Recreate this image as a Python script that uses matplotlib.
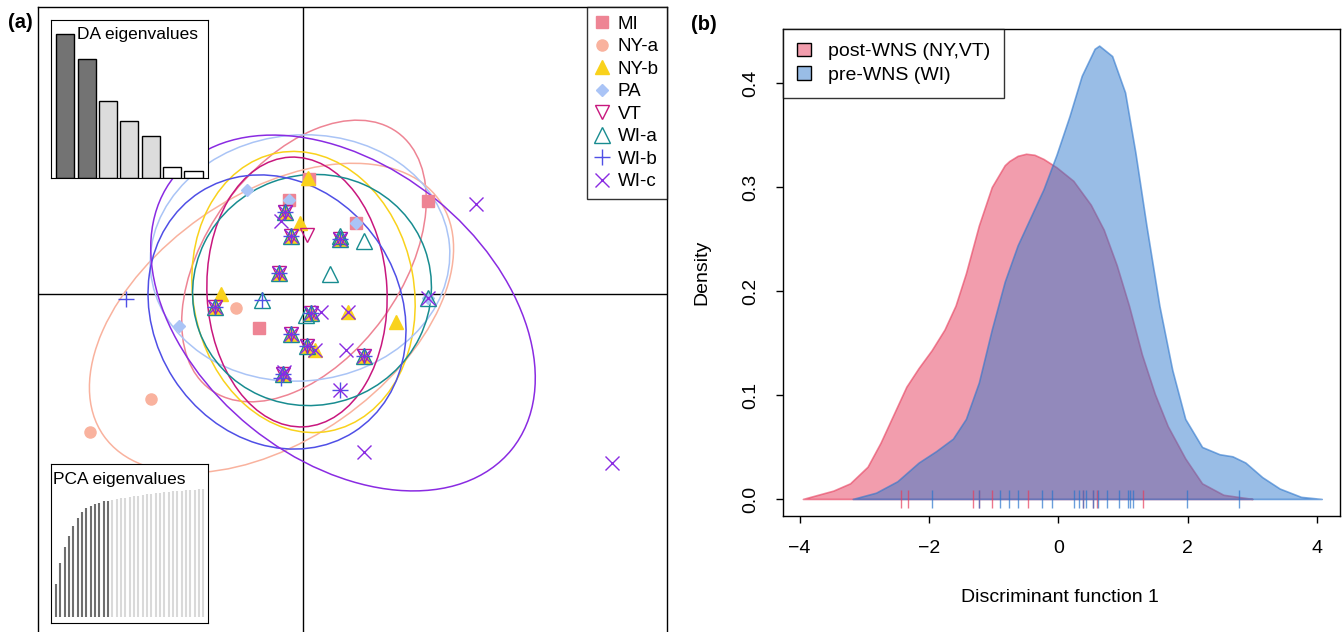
import numpy as np
import matplotlib.pyplot as plt
from matplotlib.patches import Ellipse, Patch
from matplotlib.lines import Line2D

plt.rcParams['font.family'] = ['Liberation Sans', 'DejaVu Sans']

# ---- panel (a): DAPC scatter ----
groups = ["MI", "NY-a", "NY-b", "PA", "VT", "WI-a", "WI-b", "WI-c"]
colors = ["#EE8494", "#F9B29E", "#F9D21C", "#AAC4F6", "#C8177E", "#188C90", "#4F4FE6", "#8A2BE2"]
markers = ["s", "o", "^", "D", "v", "^", "+", "x"]
msizes = [8.5, 8.0, 10.0, 6.0, 10.5, 11.0, 11.5, 9.5]
filled = [True, True, True, True, False, False, False, False]

# locations where several groups share identical coordinates
star_x = [-0.37, -0.24, 0.73, -0.49, -1.77, 0.15, -0.24, 0.07, 1.21, -0.41]
star_y = [1.65, 1.16, 1.11, 0.43, -0.25, -0.37, -0.79, -1.04, -1.23, -1.59]

mi_x = [0.12, -0.29, 1.06, 2.49, -0.89]
mi_y = [2.30, 1.89, 1.43, 1.87, -0.67]
nya_x = [-1.35, -3.04, -4.27]
nya_y = [-0.27, -2.09, -2.75]
nyb_x = [0.09, -0.06, -1.65, 0.89, 1.86, 0.23]
nyb_y = [2.33, 1.43, 0.01, -0.35, -0.55, -1.11]
pa_x = [-1.13, -0.29, 1.06, -2.49, 2.49]
pa_y = [2.08, 1.89, 1.43, -0.64, -0.07]
vt_x = [0.07]
vt_y = [1.18]
wia_x = [1.22, 0.54, -0.82, 2.49, 0.05, 0.73]
wia_y = [1.07, 0.40, -0.11, -0.07, -0.42, 1.16]
wib_x = [-3.55, -0.82, 0.73, -0.45]
wib_y = [-0.09, -0.11, -1.91, -1.68]
wic_x = [-0.44, 3.45, 0.35, 0.89, 2.49, 0.23, 0.85, 0.73, 1.21, 6.18, -0.38]
wic_y = [1.46, 1.81, -0.35, -0.35, -0.07, -1.11, -1.12, -1.91, -3.15, -3.38, -1.55]

grp_x = [mi_x, nya_x, nyb_x + star_x, pa_x, vt_x + star_x, wia_x + star_x, wib_x + star_x, wic_x + star_x]
grp_y = [mi_y, nya_y, nyb_y + star_y, pa_y, vt_y + star_y, wia_y + star_y, wib_y + star_y, wic_y + star_y]

# group ellipses: centre, width, height, angle
ell_x = [0.02, -0.63, 0.01, -0.06, -0.12, 0.18, -0.52, 0.80]
ell_y = [0.66, -0.48, 0.04, 0.72, 0.04, 0.08, -0.36, -0.38]
ell_w = [6.36, 8.20, 5.66, 6.00, 3.60, 4.80, 5.70, 8.68]
ell_h = [3.90, 4.91, 4.42, 4.92, 5.40, 4.60, 4.92, 5.87]
ell_ang = [54, 35, -79.5, 5, 3, 20, -57.3, -39]

da_eig = [43.0, 35.5, 23.1, 17.0, 12.4, 3.1, 2.1]
da_col = ["#737373", "#737373", "#DCDCDC", "#DCDCDC", "#DCDCDC", "white", "white"]

pca_cum = [0.253, 0.423, 0.543, 0.632, 0.713, 0.770, 0.817, 0.849, 0.867, 0.880, 0.893, 0.903, 0.909,
           0.915, 0.921, 0.927, 0.933, 0.938, 0.943, 0.948, 0.953, 0.958, 0.962, 0.966, 0.970,
           0.974, 0.978, 0.981, 0.984, 0.987, 0.990, 0.993, 0.995, 0.998, 1.000]
n_pca_kept = 13

# ---- panel (b): density of discriminant function 1 ----
post_x = [-3.95, -3.48, -3.22, -2.95, -2.75, -2.55, -2.35, -2.16, -1.96, -1.76, -1.59, -1.43, -1.23,
          -1.03, -0.83, -0.76, -0.63, -0.50, -0.37, -0.23, -0.03, 0.23, 0.50, 0.70, 0.90, 1.09, 1.29,
          1.49, 1.69, 1.96, 2.22, 2.55, 2.89, 3.00]
post_d = [0.000, 0.008, 0.015, 0.031, 0.054, 0.081, 0.108, 0.126, 0.143, 0.163, 0.186, 0.217, 0.263,
          0.300, 0.321, 0.325, 0.330, 0.332, 0.331, 0.327, 0.319, 0.306, 0.283, 0.259, 0.225, 0.186, 0.139,
          0.101, 0.070, 0.039, 0.015, 0.004, 0.001, 0.000]
pre_x = [-3.18, -2.82, -2.49, -2.16, -1.89, -1.63, -1.43, -1.23, -1.03, -0.83, -0.63, -0.43, -0.23,
         -0.03, 0.17, 0.36, 0.56, 0.63, 0.83, 1.03, 1.19, 1.36, 1.56, 1.76, 1.96, 2.22, 2.49, 2.69,
         2.89, 3.15, 3.42, 3.75, 4.07]
pre_d = [0.000, 0.006, 0.017, 0.035, 0.046, 0.058, 0.077, 0.112, 0.163, 0.209, 0.244, 0.271, 0.298,
         0.331, 0.368, 0.407, 0.433, 0.436, 0.426, 0.391, 0.333, 0.263, 0.186, 0.124, 0.077, 0.050,
         0.043, 0.041, 0.035, 0.021, 0.010, 0.002, 0.000]
post_rug = [-2.44, -2.32, -1.32, -1.22, -1.03, -0.47, 0.38, 0.54, 0.60, 1.31]
pre_rug = [-1.96, -1.22, -0.91, -0.76, -0.63, -0.26, -0.10, 0.24, 0.32, 0.38, 0.43, 0.54, 0.61,
           0.75, 0.94, 1.07, 1.10, 1.15, 1.98, 2.79]

post_col = (0.90, 0.24, 0.36)
pre_col = (0.17, 0.46, 0.80)

fig = plt.figure(figsize=(13.42, 6.32), dpi=100)

# left panel (box runs past the bottom edge of the figure)
ax = fig.add_axes([38/1342, -13/632, 629/1342, 638/632])
ax.set_xlim(-5.3, 7.28)
ax.set_ylim(-7.02, 5.74)
ax.set_xticks([]), ax.set_yticks([])
for s in ax.spines.values():
    s.set_linewidth(1)
ax.axhline(0, color="black", lw=1, zorder=1)
ax.axvline(0, color="black", lw=1, zorder=1)

for i in range(len(groups)):
    e = Ellipse((ell_x[i], ell_y[i]), ell_w[i], ell_h[i], angle=ell_ang[i],
                fill=False, edgecolor=colors[i], lw=1.1, zorder=2)
    ax.add_patch(e)

handles = []
for i, g in enumerate(groups):
    if filled[i]:
        ax.plot(grp_x[i], grp_y[i], ls="none", marker=markers[i], ms=msizes[i],
                mfc=colors[i], mec=colors[i], zorder=3)
    else:
        ax.plot(grp_x[i], grp_y[i], ls="none", marker=markers[i], ms=msizes[i],
                mfc="none", mec=colors[i], mew=1.0, zorder=3)
    handles.append(Line2D([], [], ls="none", marker=markers[i], ms=msizes[i],
                          mfc=colors[i] if filled[i] else "none", mec=colors[i], mew=1.0, label=g))

leg = ax.legend(handles=handles, loc="upper right", borderaxespad=0, fontsize=13.5,
                frameon=True, fancybox=False, edgecolor="black", borderpad=0.45,
                handlelength=0.7, handletextpad=0.5, labelspacing=0.29)
leg.get_frame().set_linewidth(1)
leg.set_zorder(5)

# DA eigenvalues inset
ax_da = fig.add_axes([50.7/1342, 1-178.3/632, 157.6/1342, 158.3/632])
ax_da.bar(range(len(da_eig)), da_eig, width=0.85, color=da_col, edgecolor="black", lw=1)
ax_da.set_xlim(-0.68, 6.69)
ax_da.set_ylim(-0.2, 47.3)
ax_da.set_xticks([]), ax_da.set_yticks([])
ax_da.text(0.17, 0.955, "DA eigenvalues", transform=ax_da.transAxes, fontsize=12.5, va="top", ha="left")

# PCA eigenvalues inset
ax_pc = fig.add_axes([50.7/1342, 1-623.3/632, 157.6/1342, 159.3/632])
pcol = ["#6E6E6E"]*n_pca_kept + ["#D9D9D9"]*(len(pca_cum) - n_pca_kept)
ax_pc.vlines(range(len(pca_cum)), 0, pca_cum, colors=pcol, lw=1.5)
ax_pc.set_xlim(-1.23, 35.15)
ax_pc.set_ylim(-0.052, 1.196)
ax_pc.set_xticks([]), ax_pc.set_yticks([])
ax_pc.text(0.015, 0.95, "PCA eigenvalues", transform=ax_pc.transAxes, fontsize=12.5, va="top", ha="left")

# right panel
ax2 = fig.add_axes([783/1342, 1-516/632, 557/1342, 487/632])
ax2.vlines(post_rug, -0.0087, 0.0087, colors=[post_col + (0.7,)], lw=1)
ax2.vlines(pre_rug, -0.0087, 0.0087, colors=[pre_col + (0.7,)], lw=1)
ax2.fill_between(post_x, 0, post_d, facecolor=post_col + (0.5,), edgecolor=post_col + (0.6,), lw=1.2)
ax2.fill_between(pre_x, 0, pre_d, facecolor=pre_col + (0.48,), edgecolor=pre_col + (0.6,), lw=1.2)
ax2.set_xlim(-4.257, 4.352)
ax2.set_ylim(-0.0164, 0.452)
ax2.set_xticks([-4, -2, 0, 2, 4])
ax2.set_xticklabels(["\u22124", "\u22122", "0", "2", "4"])
ax2.set_yticks([0.0, 0.1, 0.2, 0.3, 0.4])
ax2.set_yticklabels(["0.0", "0.1", "0.2", "0.3", "0.4"], rotation=90, va="center")
ax2.tick_params(axis="x", direction="out", length=5, width=1, labelsize=14, pad=12)
ax2.tick_params(axis="y", direction="out", length=5, width=1, labelsize=14, pad=12)
for s in ax2.spines.values():
    s.set_linewidth(1)
ax2.set_xlabel("Discriminant function 1", fontsize=14)
ax2.set_ylabel("Density", fontsize=14)
ax2.xaxis.set_label_coords(0.497, -0.15)
ax2.yaxis.set_label_coords(-0.13, 0.5)

leg2 = ax2.legend(handles=[Patch(facecolor=post_col + (0.5,), edgecolor="black", label="post-WNS (NY,VT)"),
                           Patch(facecolor=pre_col + (0.48,), edgecolor="black", label="pre-WNS (WI)")],
                  loc="upper left", borderaxespad=0, fontsize=14, frameon=True, fancybox=False,
                  edgecolor="black", borderpad=0.7, handlelength=0.72, handleheight=0.72,
                  handletextpad=0.9, labelspacing=0.3)
leg2.get_frame().set_linewidth(1)

fig.text(20/1342, 1-23/632, "(a)", fontsize=14.5, fontweight="bold", ha="center", va="center")
fig.text(704/1342, 1-24/632, "(b)", fontsize=14.5, fontweight="bold", ha="center", va="center")

fig.savefig("out.png", dpi=100)
